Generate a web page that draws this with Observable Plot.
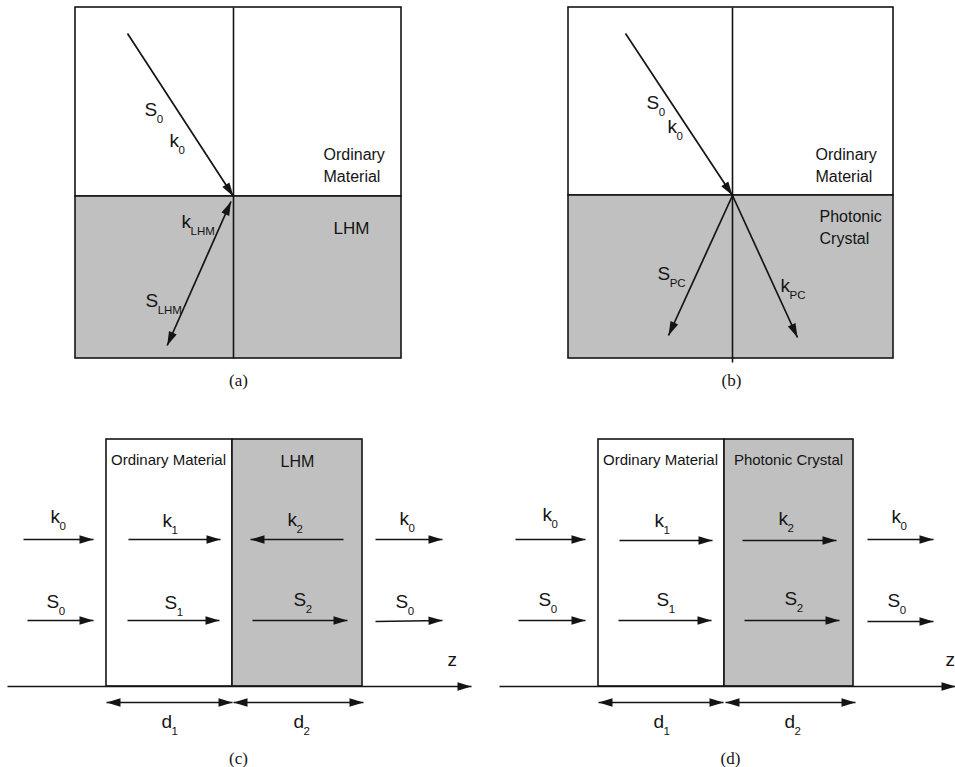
<!DOCTYPE html>
<html>
<head>
<meta charset="utf-8">
<script src="https://cdn.jsdelivr.net/npm/d3@7"></script>
<script src="https://cdn.jsdelivr.net/npm/@observablehq/plot@0.6"></script>
<style>
  html, body { margin: 0; padding: 0; background: #fff; }
  #chart svg { display: block; }
</style>
</head>
<body>
<div id="chart"></div>
<script>
// ---- Diagram data (figure coordinate system, y grows downward) ----
const W = 955, H = 767;

// Material regions: [x1, x2, y1, y2, material]
const regions = [
  [75, 401, 7, 196, "ordinary"], [75, 401, 196, 358, "lhm"],
  [568, 893, 7, 195, "ordinary"], [568, 893, 195, 358, "pc"],
  [106, 232, 439, 686, "ordinary"], [232, 362, 439, 686, "lhm"],
  [598, 724, 439, 686, "ordinary"], [724, 853, 439, 686, "pc"]
];

// Plain lines (interface normals): [x1, y1, x2, y2]
const normals = [
  [233, 7, 233, 358],
  [732, 7, 732, 362]
];

// Arrows: [x1, y1, x2, y2, heads]  heads: "end" or "both"
const arrows = [
  // (a)
  [127, 33, 233, 196, "end"],
  [230.5, 201, 166.7, 345, "both"],
  // (b)
  [625, 33, 732, 195, "end"],
  [732, 195, 668, 335, "end"],
  [732, 195, 797, 337, "end"],
  // (c)
  [23, 539, 93, 539, "end"], [128, 539, 220, 539, "end"],
  [343, 539, 250, 539, "end"], [375, 539, 442, 539, "end"],
  [27, 620, 93, 620, "end"], [127, 620, 219, 620, "end"],
  [252, 620, 347, 620, "end"], [375, 621, 442, 620, "end"],
  [7, 686, 471, 686, "end"],
  [106, 702, 232, 702, "both"], [233, 702, 363, 702, "both"],
  // (d)
  [515, 539, 585, 539, "end"], [619, 540, 712, 540, "end"],
  [742, 540, 836, 540, "end"], [867, 539, 933, 539, "end"],
  [518, 620, 585, 620, "end"], [618, 620, 711, 620, "end"],
  [744, 620, 839, 620, "end"], [867, 621, 933, 621, "end"],
  [499, 686, 955, 686, "end"],
  [598, 702, 723, 702, "both"], [725, 702, 855, 702, "both"]
];

// Vector labels: [base, subscript, left x, baseline y]
const vectorLabels = [
  ["S", "0", 144, 115], ["k", "0", 169, 146],
  ["k", "LHM", 181, 227], ["S", "LHM", 145, 306],
  ["S", "0", 646, 108], ["k", "0", 667, 132],
  ["S", "PC", 657, 279], ["k", "PC", 780, 291],
  ["k", "0", 50, 522], ["k", "1", 162, 526], ["k", "2", 287, 525], ["k", "0", 399, 524],
  ["S", "0", 46, 607], ["S", "1", 164, 608], ["S", "2", 293, 605], ["S", "0", 395, 607],
  ["d", "1", 161, 727], ["d", "2", 293, 727],
  ["k", "0", 542, 520], ["k", "1", 654, 526], ["k", "2", 778, 524], ["k", "0", 891, 522],
  ["S", "0", 538, 605], ["S", "1", 656, 605], ["S", "2", 784, 604], ["S", "0", 887, 606],
  ["d", "1", 653, 727], ["d", "2", 784, 727],
  ["z", "", 447, 665], ["z", "", 945, 665]
];

// Material names: [text, x, baseline y, anchor, size]
const materialLabels = [
  ["Ordinary\nMaterial", 323, 181, "start", 16],
  ["LHM", 351, 233, "middle", 17],
  ["Ordinary\nMaterial", 815, 181, "start", 16],
  ["Photonic\nCrystal", 819, 243, "start", 16],
  ["Ordinary Material", 168, 464, "middle", 15],
  ["LHM", 297, 466, "middle", 16],
  ["Ordinary Material", 660, 464, "middle", 15],
  ["Photonic Crystal", 788, 464, "middle", 15]
];

// Panel captions: [text, x, baseline y]
const captions = [
  ["(a)", 238, 385], ["(b)", 731, 385],
  ["(c)", 238, 763], ["(d)", 730, 763]
];

// ---- Derived tables ----
const regionData = regions.map(([x1, x2, y1, y2, m]) => ({x1, x2, y1, y2, m}));
const normalData = normals.map(([x1, y1, x2, y2]) => ({x1, y1, x2, y2}));
const shaftData = arrows.map(([x1, y1, x2, y2, h]) => ({x1, y1, x2, y2, h}));
const headData = [];
for (const a of shaftData) {
  const ang = Math.atan2(a.x2 - a.x1, -(a.y2 - a.y1)) * 180 / Math.PI;
  headData.push({x: a.x2, y: a.y2, r: ang});
  if (a.h === "both") headData.push({x: a.x1, y: a.y1, r: ang + 180});
}

const SANS = "'Liberation Sans', Arial, Helvetica, sans-serif";
const SERIF = "'Liberation Serif', 'Times New Roman', serif";
const BASE_SIZE = 19, SUB_SIZE = 11.5;

const ctx = document.createElement("canvas").getContext("2d");
ctx.font = `${BASE_SIZE}px 'Liberation Sans'`;
const labelData = vectorLabels.map(([b, s, x, y]) => ({b, s, x, y, w: ctx.measureText(b).width}));
const materialData = materialLabels.map(([t, x, y, a, size]) => ({t, x, y, a, size}));
const captionData = captions.map(([t, x, y]) => ({t, x, y}));

const headSymbol = {
  draw(context) {
    context.moveTo(0, 0);
    context.lineTo(-4.2, 14);
    context.lineTo(4.2, 14);
    context.closePath();
  }
};

const INK = "#141414";

const plot = Plot.plot({
  width: W,
  height: H,
  margin: 0,
  x: {domain: [0, W], range: [0, W], axis: null},
  y: {domain: [0, H], range: [0, H], axis: null},
  color: {domain: ["ordinary", "lhm", "pc"], range: ["#ffffff", "#c0c0c0", "#c0c0c0"]},
  style: {background: "#fff", fontFamily: SANS, overflow: "hidden"},
  marks: [
    Plot.rect(regionData, {x1: "x1", x2: "x2", y1: "y1", y2: "y2", fill: "m", stroke: INK, strokeWidth: 1.6}),
    Plot.link(normalData, {x1: "x1", y1: "y1", x2: "x2", y2: "y2", stroke: INK, strokeWidth: 1.6}),
    Plot.link(shaftData, {x1: "x1", y1: "y1", x2: "x2", y2: "y2", stroke: INK, strokeWidth: 1.7}),
    Plot.dot(headData, {x: "x", y: "y", rotate: "r", symbol: headSymbol, fill: INK, stroke: "none", r: 5}),
    Plot.text(labelData, {x: "x", y: "y", text: "b", textAnchor: "start", lineAnchor: "bottom", fontSize: BASE_SIZE, fill: INK}),
    Plot.text(labelData, {x: d => d.x + d.w - 0.5, y: d => d.y + 7, text: "s", textAnchor: "start", lineAnchor: "bottom", fontSize: SUB_SIZE, fill: INK}),
    Plot.text(materialData.filter(d => d.a === "start"), {x: "x", y: "y", text: "t", textAnchor: "start", lineAnchor: "bottom", fontSize: 16, lineHeight: 1.35, fill: INK, letterSpacing: "-0.3px"}),
    Plot.text(materialData.filter(d => d.a === "middle" && d.size === 17), {x: "x", y: "y", text: "t", textAnchor: "middle", lineAnchor: "bottom", fontSize: 17, fill: INK, letterSpacing: "0.5px"}),
    Plot.text(materialData.filter(d => d.a === "middle" && d.size === 16), {x: "x", y: "y", text: "t", textAnchor: "middle", lineAnchor: "bottom", fontSize: 16, fill: INK}),
    Plot.text(materialData.filter(d => d.a === "middle" && d.size === 15), {x: "x", y: "y", text: "t", textAnchor: "middle", lineAnchor: "bottom", fontSize: 15, fill: INK, letterSpacing: "-0.3px"}),
    Plot.text(captionData, {x: "x", y: "y", text: "t", textAnchor: "middle", lineAnchor: "bottom", fontSize: 17, fontFamily: SERIF, fill: INK})
  ]
});
document.getElementById("chart").appendChild(plot);
</script>
</body>
</html>
